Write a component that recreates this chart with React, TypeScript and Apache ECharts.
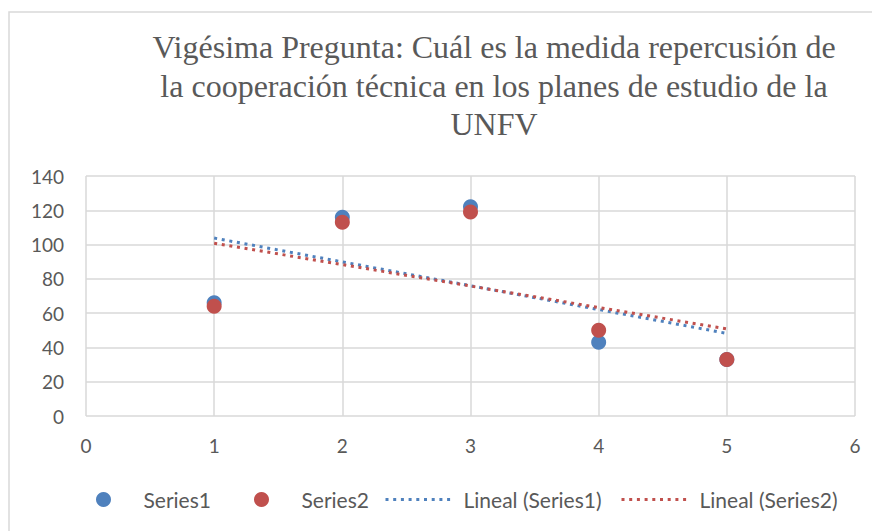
import React, { useEffect, useRef } from "react";
import * as echarts from "echarts";

const xValues = [1, 2, 3, 4, 5];
const series1 = [66, 116, 122, 43, 33];
const series2 = [64, 113, 119, 50, 33];
const seriesNames = ["Series1", "Series2", "Lineal (Series1)", "Lineal (Series2)"];
const titleLines = [
  "Vigésima Pregunta: Cuál es la medida repercusión de",
  "la cooperación técnica en los planes de estudio de la",
  "UNFV",
];

const BLUE = "#4F81BD";
const RED = "#C0504D";
const TEXT = "#595959";
const GRID = "#D9D9D9";
const FONT = "Lato, 'Open Sans', sans-serif";

function trend(xs: number[], ys: number[]): number[][] {
  const n = xs.length;
  const mx = xs.reduce((a, b) => a + b, 0) / n;
  const my = ys.reduce((a, b) => a + b, 0) / n;
  let num = 0;
  let den = 0;
  for (let i = 0; i < n; i++) {
    num += (xs[i] - mx) * (ys[i] - my);
    den += (xs[i] - mx) * (xs[i] - mx);
  }
  const slope = num / den;
  const b = my - slope * mx;
  const x0 = Math.min(...xs);
  const x1 = Math.max(...xs);
  return [
    [x0, slope * x0 + b],
    [x1, slope * x1 + b],
  ];
}

export default function App() {
  const ref = useRef<HTMLDivElement>(null);
  useEffect(() => {
    if (!ref.current) return;
    const chart = echarts.init(ref.current, null, { renderer: "svg" });
    const dotted = { width: 3, type: [3, 4.7] as number[] };
    const mkLegend = (name: string, left: number, pad: number, color: string, isLine: boolean) => {
      const lg: any = {
        data: [name],
        left,
        top: 481,
        itemWidth: 67,
        itemHeight: 15,
        itemGap: 0,
        padding: 0,
        textStyle: { color: TEXT, fontSize: 21, fontFamily: FONT, padding: [0, 0, 0, pad] },
        selectedMode: false,
      };
      if (isLine) {
        lg.itemStyle = { opacity: 0 };
        lg.lineStyle = { color, ...dotted };
      } else {
        lg.itemStyle = { color, opacity: 1 };
      }
      return lg;
    };
    chart.setOption({
      animation: false,
      backgroundColor: "#fff",
      graphic: [
        {
          type: "rect",
          shape: { x: 1, y: 4, width: 900, height: 600 },
          style: { fill: "none", stroke: GRID, lineWidth: 1.5 },
          silent: true,
        },
        {
          type: "text",
          x: 486,
          y: 20,
          style: {
            text: titleLines.join("\n"),
            align: "center",
            verticalAlign: "top",
            fill: TEXT,
            font: "32px 'Liberation Serif', 'Times New Roman', serif",
            lineHeight: 38.5,
          },
        },
      ],
      legend: [
        mkLegend(seriesNames[0], 88, 1.5, BLUE, false),
        mkLegend(seriesNames[1], 246, 1.5, RED, false),
        mkLegend(seriesNames[2], 376, 6, BLUE, true),
        mkLegend(seriesNames[3], 612, 6, RED, true),
      ],
      grid: { left: 78, top: 168, right: 25, bottom: 115 },
      xAxis: {
        type: "value",
        min: 0,
        max: 6,
        interval: 1,
        axisLine: { show: false },
        axisTick: { show: false },
        splitLine: { show: true, lineStyle: { color: GRID, width: 1.5 } },
        axisLabel: { color: TEXT, fontSize: 19, fontFamily: FONT, margin: 20 },
      },
      yAxis: {
        type: "value",
        min: 0,
        max: 140,
        interval: 20,
        axisLine: { show: false },
        axisTick: { show: false },
        splitLine: { show: true, lineStyle: { color: GRID, width: 1.5 } },
        axisLabel: { color: TEXT, fontSize: 19, fontFamily: FONT, margin: 22 },
      },
      series: [
        {
          name: seriesNames[0],
          type: "scatter",
          symbol: "circle",
          symbolSize: 15,
          itemStyle: { color: BLUE, opacity: 1 },
          data: xValues.map((x, i) => [x, series1[i]]),
        },
        {
          name: seriesNames[1],
          type: "scatter",
          symbol: "circle",
          symbolSize: 15,
          itemStyle: { color: RED, opacity: 1 },
          data: xValues.map((x, i) => [x, series2[i]]),
        },
        {
          name: seriesNames[2],
          type: "line",
          symbol: "none",
          color: BLUE,
          lineStyle: { color: BLUE, ...dotted },
          data: trend(xValues, series1),
        },
        {
          name: seriesNames[3],
          type: "line",
          symbol: "none",
          color: RED,
          lineStyle: { color: RED, ...dotted },
          data: trend(xValues, series2),
        },
      ],
    });
    return () => chart.dispose();
  }, []);
  return <div ref={ref} style={{ width: 872, height: 523 }} />;
}
